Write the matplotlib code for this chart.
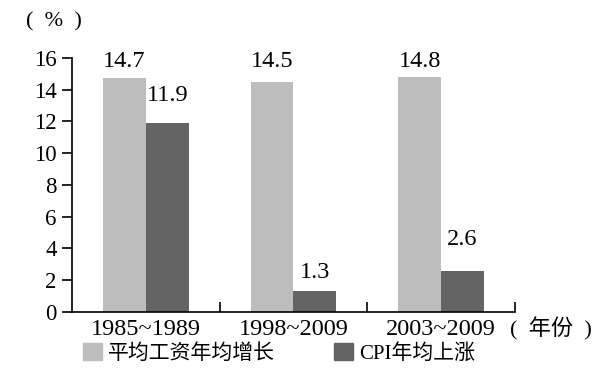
import matplotlib
matplotlib.use("Agg")
import matplotlib.pyplot as plt
from matplotlib.patches import Patch
import numpy as np

plt.rcParams['font.family'] = ['Liberation Serif', 'Noto Sans CJK SC', 'DejaVu Sans']

categories = ['1985~1989', '1998~2009', '2003~2009']
wage_growth = [14.7, 14.5, 14.8]
cpi_rise = [11.9, 1.3, 2.6]
series_names = ['平均工资年均增长', 'CPI年均上涨']
colors = ['#bdbdbd', '#646464']

# gap between bar top and its value label (the original places them by hand)
wage_label_gap = [1.05, 1.25, 0.95]
cpi_label_gap = [1.75, 1.2, 1.95]

fig = plt.figure(figsize=(6, 3.85), dpi=100)
ax = fig.add_axes([0.12, 0.19, 0.738, 0.66])

x = np.arange(len(categories))
w = 0.29
ax.bar(x - w / 2, wage_growth, w, color=colors[0])
ax.bar(x + w / 2, cpi_rise, w, color=colors[1])

for xi, v, g in zip(x - w / 2, wage_growth, wage_label_gap):
    ax.text(xi, v + g, f'{v}', ha='center', va='center', fontsize=17.5)
for xi, v, g in zip(x + w / 2, cpi_rise, cpi_label_gap):
    ax.text(xi, v + g, f'{v}', ha='center', va='center', fontsize=17.5)

ax.set_xlim(-0.5, 2.5)
ax.set_ylim(0, 16)
ax.set_yticks(range(0, 17, 2))
ax.tick_params(axis='y', direction='out', length=7, width=1.2, labelsize=16.5, pad=4)
ax.set_xticks(x)
ax.set_xticklabels(categories, fontsize=17.5)
ax.tick_params(axis='x', length=0, pad=5)
ax.set_xticks([0.5, 1.5, 2.5], minor=True)
ax.tick_params(axis='x', which='minor', direction='in', length=7, width=1.2)

for s in ['top', 'right']:
    ax.spines[s].set_visible(False)
for s in ['left', 'bottom']:
    ax.spines[s].set_linewidth(1.2)

fig.text(0.043, 0.942, '(  %  )', fontsize=16, va='center', ha='left',
         family=['Liberation Serif'])
fig.text(0.85, 0.146, '(  年份  )', fontsize=16, va='center', ha='left',
         family=['Liberation Serif', 'Noto Sans CJK SC'])

handles = [Patch(color=c) for c in colors]
fig.legend(handles, series_names, loc='center', bbox_to_anchor=(0.465, 0.082),
           ncol=2, frameon=False, handlelength=0.9, handleheight=0.9,
           handletextpad=0.3, columnspacing=2.85,
           prop={'family': ['Liberation Serif', 'Noto Sans CJK SC'], 'size': 15})

fig.savefig('out.png', dpi=100)
